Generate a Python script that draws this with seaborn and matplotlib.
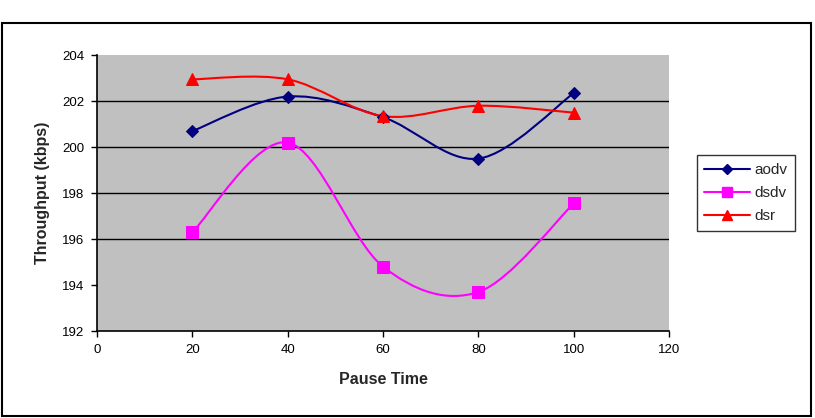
import numpy as np
import pandas as pd
import seaborn as sns
from matplotlib import pyplot as plt
from matplotlib.path import Path
from matplotlib.patches import PathPatch, Rectangle

# Data
pause_time = [20, 40, 60, 80, 100]
aodv = [200.7, 202.2, 201.3, 199.5, 202.35]
dsdv = [196.3, 200.2, 194.8, 193.7, 197.55]
dsr = [202.95, 202.95, 201.35, 201.8, 201.5]

protocols = ["aodv", "dsdv", "dsr"]
colors = {"aodv": "#000080", "dsdv": "#FF00FF", "dsr": "#FF0000"}
markers = {"aodv": "D", "dsdv": "s", "dsr": "^"}
msizes = {"aodv": 6, "dsdv": 8, "dsr": 8}

df = pd.DataFrame({"Pause Time": pause_time, "aodv": aodv, "dsdv": dsdv, "dsr": dsr})
df_long = df.melt(id_vars="Pause Time", var_name="protocol", value_name="Throughput")

sns.set_style("white")
plt.rcParams["font.family"] = ["Liberation Sans", "DejaVu Sans"]

fig = plt.figure(figsize=(8.15, 4.18), dpi=100)
ax = fig.add_axes([0.119, 0.208, 0.702, 0.660])

# Excel style smoothed line: cubic bezier with catmull-rom control points
def smooth_path(x, y):
    x = np.asarray(x, float)
    y = np.asarray(y, float)
    verts = [(x[0], y[0])]
    codes = [Path.MOVETO]
    n = len(x)
    for i in range(n - 1):
        i0 = max(i - 1, 0)
        i3 = min(i + 2, n - 1)
        c1 = (x[i] + (x[i + 1] - x[i0]) / 6, y[i] + (y[i + 1] - y[i0]) / 6)
        c2 = (x[i + 1] - (x[i3] - x[i]) / 6, y[i + 1] - (y[i3] - y[i]) / 6)
        verts += [c1, c2, (x[i + 1], y[i + 1])]
        codes += [Path.CURVE4] * 3
    return Path(verts, codes)

for p in protocols:
    sub = df_long[df_long["protocol"] == p]
    ax.add_patch(PathPatch(smooth_path(sub["Pause Time"], sub["Throughput"]),
                           fill=False, edgecolor=colors[p], lw=1.5, zorder=3))
    sns.lineplot(data=sub, x="Pause Time", y="Throughput", ax=ax, color=colors[p],
                 marker=markers[p], markersize=msizes[p], markeredgecolor=colors[p],
                 linestyle="none", label=p, zorder=4)

ax.set_facecolor("#C0C0C0")
ax.set_xlim(0, 120)
ax.set_ylim(192, 204)
ax.set_xticks(range(0, 121, 20))
ax.set_yticks(range(192, 205, 2))
for yv in [196, 198, 200, 202]:
    ax.axhline(yv, color="black", lw=1, zorder=1)

for s in ["top", "right"]:
    ax.spines[s].set_visible(False)
for s in ["left", "bottom"]:
    ax.spines[s].set_color("black")
    ax.spines[s].set_linewidth(1.2)
ax.tick_params(axis="both", direction="out", length=4, width=1, colors="black",
               labelsize=9.5, pad=5, bottom=True, left=True)

ax.set_xlabel("Pause Time", fontsize=11.5, fontweight="bold", labelpad=12)
ax.set_ylabel("Throughput (kbps)", fontsize=11.5, fontweight="bold", labelpad=9)

# legend with line through the marker
handles = [plt.Line2D([], [], color=colors[p], marker=markers[p], markersize=msizes[p] - 1,
                      lw=1.5) for p in protocols]
leg = ax.legend(handles, protocols, loc="upper left", bbox_to_anchor=(1.035, 0.665),
                frameon=True, fancybox=False, fontsize=11, handlelength=3.0,
                borderpad=0.5, labelspacing=0.6, handletextpad=0.3)
leg.get_frame().set_edgecolor("black")
leg.get_frame().set_linewidth(1)

# chart area border
fig.patches.append(Rectangle((0.002, 0.005), 0.993, 0.94, transform=fig.transFigure,
                             fill=False, edgecolor="black", lw=1.5))

fig.savefig("out.png", dpi=100)
